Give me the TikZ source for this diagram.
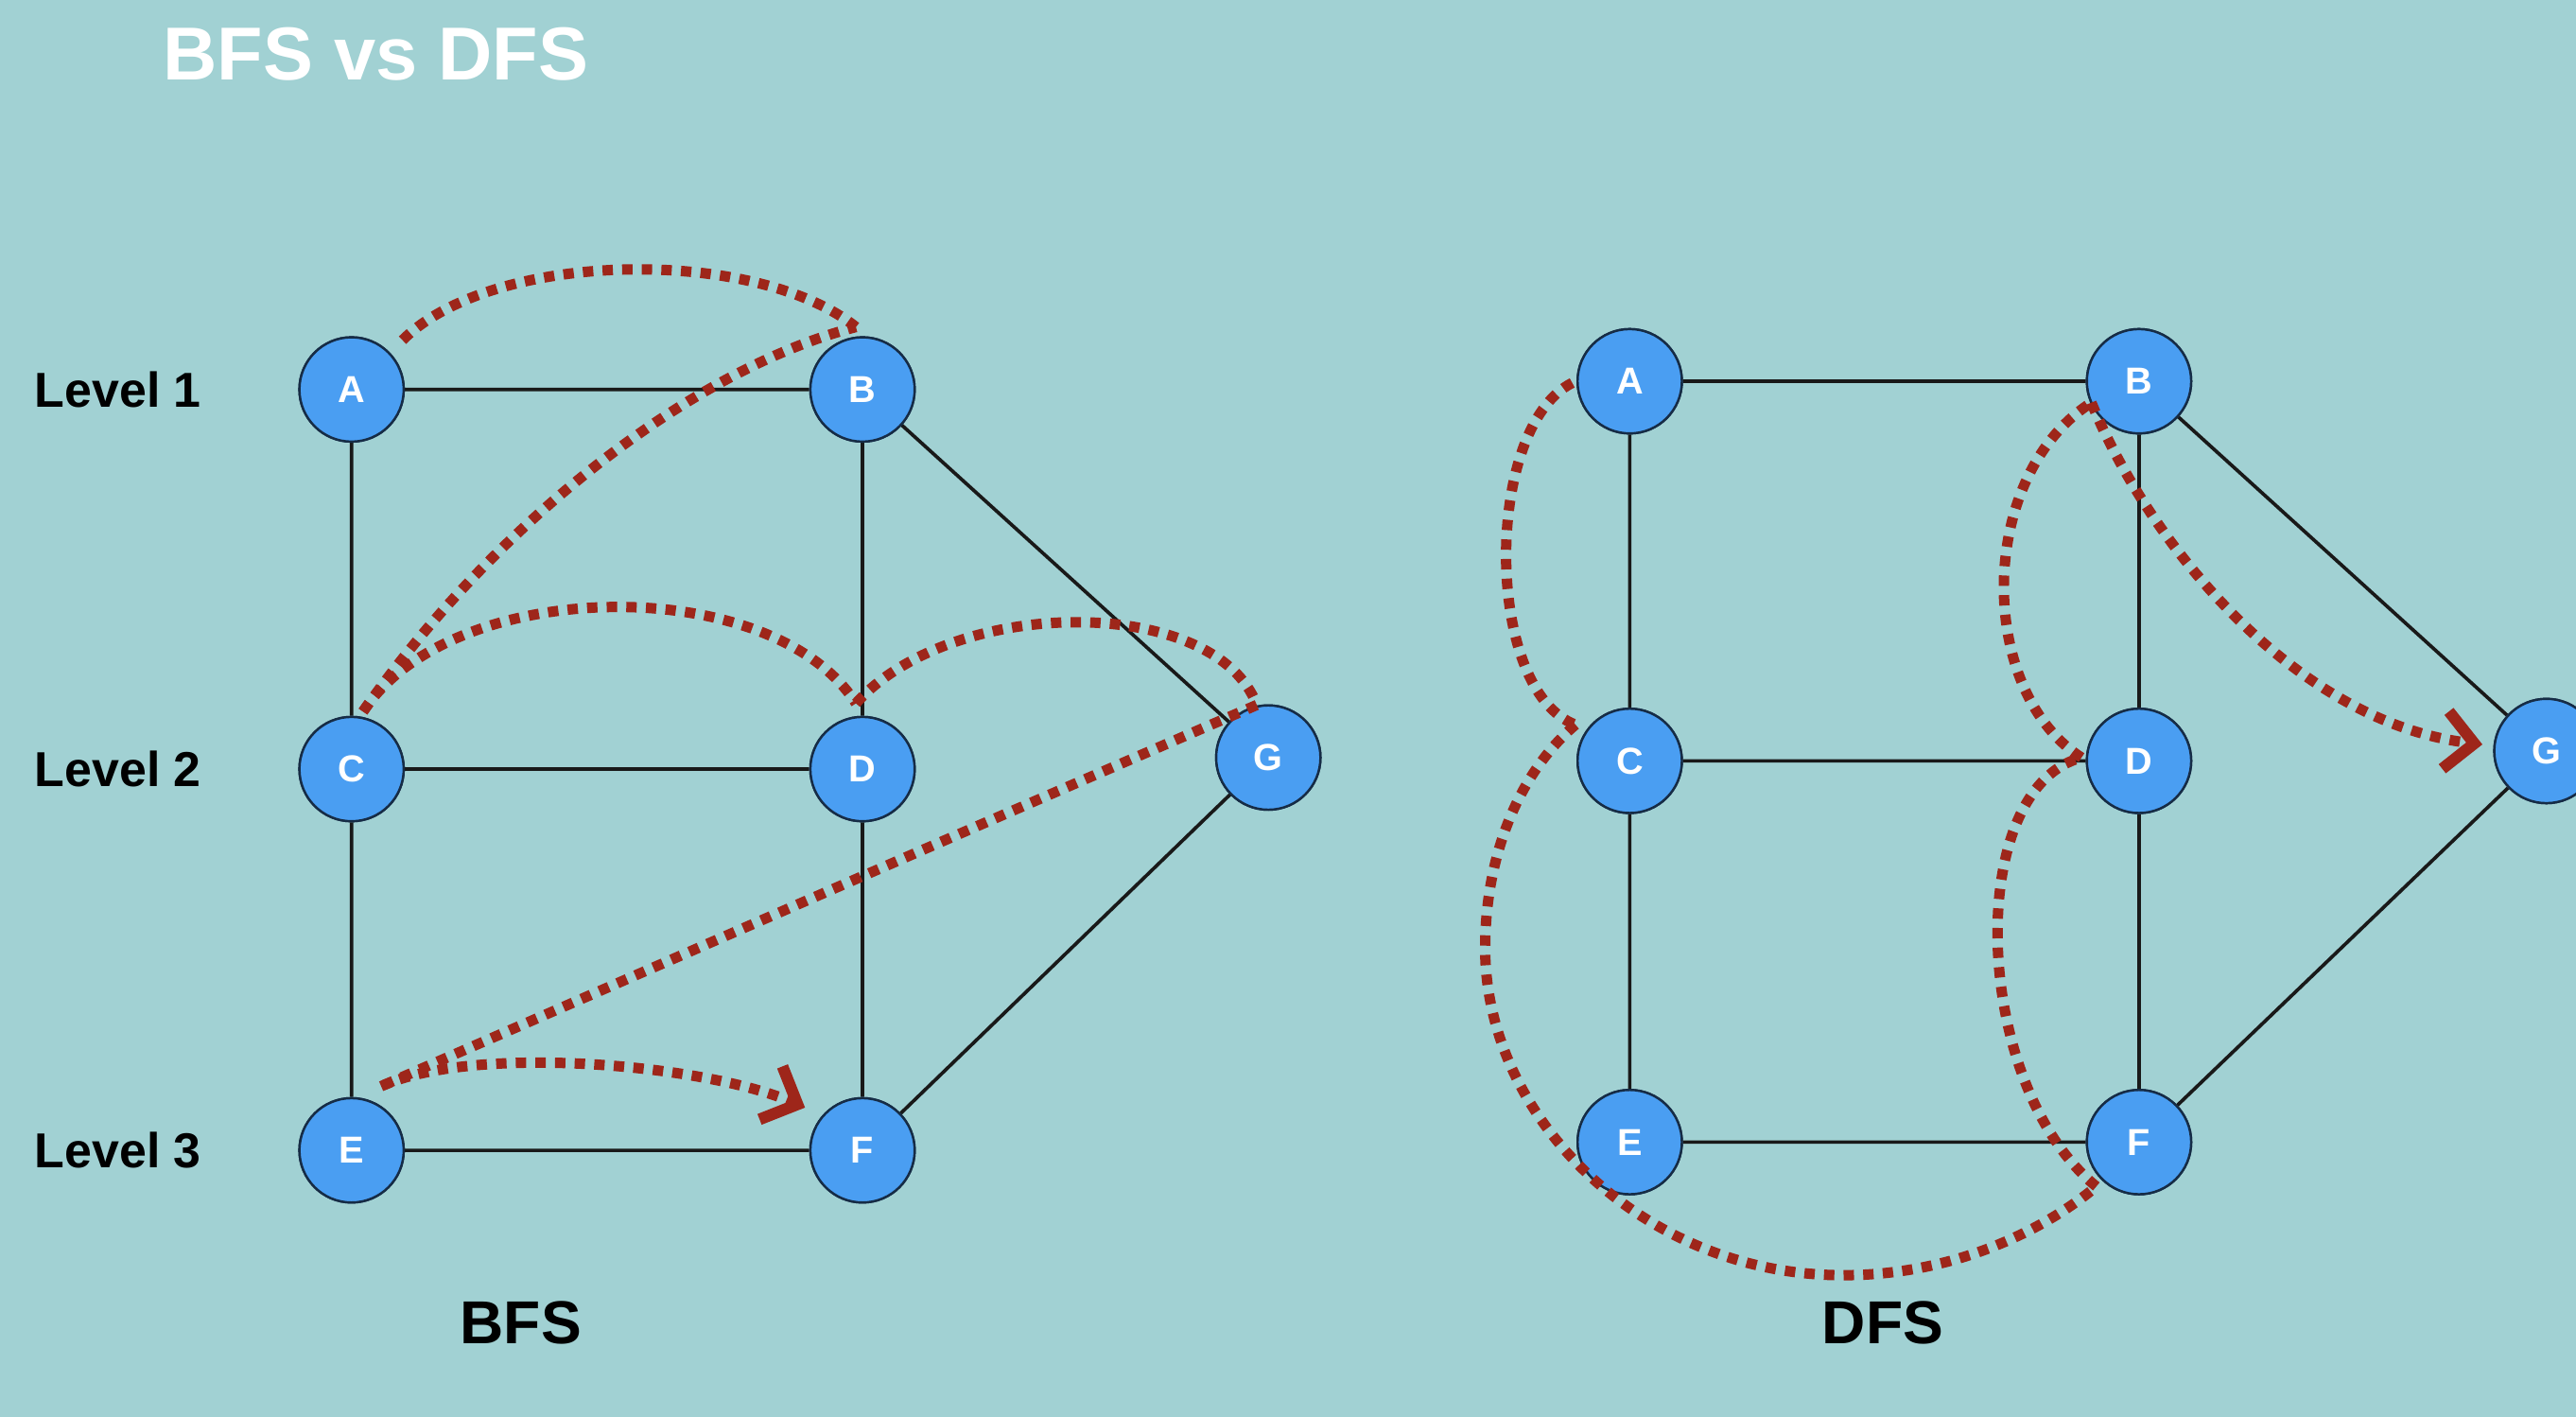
\documentclass[tikz,border=0pt]{standalone}
\usepackage{fontspec}
\setmainfont{Liberation Sans}
\usetikzlibrary{arrows.meta}
\definecolor{bgc}{RGB}{161,209,211}
\definecolor{nodefill}{RGB}{74,158,242}
\definecolor{nodeline}{RGB}{22,44,70}
\definecolor{trace}{RGB}{158,38,26}
\begin{document}
\begin{tikzpicture}[x=0.02cm,y=-0.02cm,
  vert/.style={circle,fill=nodefill,draw=nodeline,line width=0.8pt,minimum size=1.27cm,inner sep=0pt,text=white,font=\fontsize{13}{15}\selectfont\bfseries},
  edge/.style={line width=1.2pt,draw=black!90},
  trail/.style={draw=trace,line width=3.6pt,dash pattern=on 3.6pt off 3.2pt},
  trailtip/.style={trail,-{Straight Barb[length=10pt,width=20pt,line width=4pt]}},
  levellab/.style={anchor=west,font=\fontsize{17}{20}\selectfont\bfseries},
  caplab/.style={font=\fontsize{21}{24}\selectfont\bfseries}]
\clip (0,0) rectangle (1568,862);
\fill[bgc] (0,0) rectangle (1568,862);

% title
\node[text=white,font=\fontsize{26}{30}\selectfont\bfseries,anchor=west] (title) at (93,33) {BFS vs DFS};

% level labels
\node[levellab] (l1) at (15,237) {Level 1};
\node[levellab] (l2) at (15,468) {Level 2};
\node[levellab] (l3) at (15,700) {Level 3};

% BFS graph
\node[vert] (bA) at (214,237) {A};
\node[vert] (bB) at (525,237) {B};
\node[vert] (bC) at (214,468) {C};
\node[vert] (bD) at (525,468) {D};
\node[vert] (bE) at (214,700) {E};
\node[vert] (bF) at (525,700) {F};
\node[vert] (bG) at (772,461) {G};
\draw[edge] (bA) -- (bB) (bA) -- (bC) (bB) -- (bD) (bB) -- (bG)
            (bC) -- (bD) (bC) -- (bE) (bD) -- (bF) (bE) -- (bF) (bF) -- (bG);
\node[vert] at (bA) {A};
\node[vert] at (bB) {B};
\node[vert] at (bC) {C};
\node[vert] at (bD) {D};
\node[vert] at (bE) {E};
\node[vert] at (bF) {F};
\node[vert] at (bG) {G};

% BFS traversal
\coordinate (pA) at (245,207);
\coordinate (pB) at (521,199);
\coordinate (pC) at (221,433);
\coordinate (pD) at (521,428);
\coordinate (pG) at (765,429);
\coordinate (pE) at (232,661);
\coordinate (pF) at (490,674);
\draw[trail] (pA) .. controls (300,152) and (460,150) .. (pB);
\draw[trail] (pC) .. controls (300,320) and (420,225) .. (pB);
\draw[trail] (pC) .. controls (275,350) and (470,348) .. (pD);
\draw[trail] (pD) .. controls (580,362) and (740,362) .. (pG);
\draw[trail] (pG) .. controls (600,500) and (400,588) .. (pE);
\draw[trailtip] (pE) .. controls (290,635) and (430,648) .. (pF);

\node[caplab] (bfs) at (317,805) {BFS};

% DFS graph
\node[vert] (dA) at (992,232) {A};
\node[vert] (dB) at (1302,232) {B};
\node[vert] (dC) at (992,463) {C};
\node[vert] (dD) at (1302,463) {D};
\node[vert] (dE) at (992,695) {E};
\node[vert] (dF) at (1302,695) {F};
\node[vert] (dG) at (1550,457) {G};
\draw[edge] (dA) -- (dB) (dA) -- (dC) (dB) -- (dD) (dB) -- (dG)
            (dC) -- (dD) (dC) -- (dE) (dD) -- (dF) (dE) -- (dF) (dF) -- (dG);
\node[vert] at (dA) {A};
\node[vert] at (dB) {B};
\node[vert] at (dC) {C};
\node[vert] at (dD) {D};
\node[vert] at (dE) {E};
\node[vert] at (dF) {F};
\node[vert] at (dG) {G};

% DFS traversal
\coordinate (qA) at (957,233);
\coordinate (qC) at (959,441);
\coordinate (qL) at (904,577);
\coordinate (qBot) at (1122,776);
\coordinate (qF) at (1276,722);
\coordinate (qD) at (1267,461);
\coordinate (qB) at (1273,245);
\coordinate (qG) at (1511,453);
\draw[trail] (qA) .. controls (903,260) and (903,420) .. (qC);
\draw[trail] (qC) .. controls (925,470) and (904,520) .. (qL)
                  .. controls (904,680) and (1000,776) .. (qBot)
                  .. controls (1190,776) and (1245,748) .. (qF);
\draw[trail] (qF) .. controls (1200,660) and (1195,480) .. (qD);
\draw[trail] (qD) .. controls (1203,420) and (1203,290) .. (qB);
\draw[trailtip] (qB) .. controls (1310,335) and (1400,440) .. (qG);

\node[caplab] (dfs) at (1146,805) {DFS};
\end{tikzpicture}
\end{document}
